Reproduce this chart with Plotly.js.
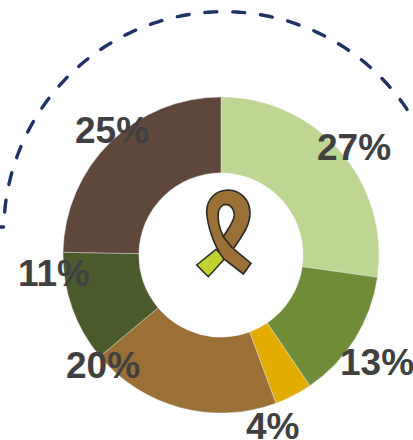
<!DOCTYPE html>
<html>
<head>
<meta charset="utf-8">
<script src="https://cdn.plot.ly/plotly-3.0.1.min.js"></script>
<style>html,body{margin:0;padding:0;background:#fff}#c{width:413px;height:440px}</style>
</head>
<body>
<div id="c"></div>
<script>
var categories = ['A','B','C','D','E','F'];
var values = [27.26,13.24,3.85,19.55,11.37,24.73];
var percentLabels = ['27%','13%','4%','20%','11%','25%'];
var colors = ['#BFD693','#6F8D38','#E2AC00','#9A7036','#4A5A2B','#60473B'];
var labelX = [353.5,376.5,272,103,53.5,112];
var labelY = [147,362,426,365,273,130];

function arcPath(cx,cy,r,a0,a1,n){
  var p=[];
  for(var i=0;i<=n;i++){
    var a=(a0+(a1-a0)*i/n)*Math.PI/180;
    p.push((i?'L':'M')+(cx+r*Math.cos(a)).toFixed(2)+','+(cy+r*Math.sin(a)).toFixed(2));
  }
  return p.join(' ');
}
function rib(d){
  return d.replace(/(-?[\d.]+),(-?[\d.]+)/g,function(m,x,y){
    return (180+x/3).toFixed(2)+','+(170+y/3).toFixed(2);
  });
}
var limeD='M108,238 L50,285 L85,320 L135,265 Z';
var brownD='M213,280 L160,236 C185,200 212,165 210,125 C207,85 180,62 145,60 C105,60 80,90 80,125 C82,165 100,225 130,265 L190,312 Z '+
           'M130,200 C118,175 112,150 115,128 C118,112 128,103 138,103 C152,104 163,118 163,135 C162,155 145,175 130,200 Z';
var edgeD='M130,200 L157,234';
var ink='#2a2a2a';

var annotations = percentLabels.map(function(t,i){
  return {x:labelX[i],y:labelY[i],xref:'x',yref:'y',text:t,showarrow:false,
    xanchor:'center',yanchor:'middle',font:{family:'Liberation Sans, Arial, sans-serif',size:37,color:'#404040',weight:700}};
});

Plotly.newPlot('c',[{
  type:'pie',labels:categories,values:values,sort:false,direction:'clockwise',rotation:0,hole:0.52,
  marker:{colors:colors,line:{width:0.4,color:'#e8e8e8'}},textinfo:'none',hoverinfo:'none',showlegend:false,
  domain:{x:[63/413,379/413],y:[1-413/440,1-97/440]}
}],{
  width:413,height:440,margin:{l:0,r:0,t:0,b:0},paper_bgcolor:'#fff',plot_bgcolor:'rgba(0,0,0,0)',
  showlegend:false,
  xaxis:{range:[0,413],visible:false,fixedrange:true},
  yaxis:{range:[440,0],visible:false,fixedrange:true},
  annotations:annotations,
  shapes:[
    {type:'path',xref:'x',yref:'y',layer:'above',path:arcPath(224,232,220.3,185.2,327.1,200),
     line:{color:'#1F3263',width:3.4,dash:'12px,15.9px'}},
    {type:'path',xref:'x',yref:'y',layer:'above',path:'M0,227 L3.5,227',line:{color:'#1F3263',width:3.4}},
    {type:'path',xref:'x',yref:'y',layer:'above',path:rib(limeD),fillcolor:'#BFD22F',line:{color:ink,width:1.5}},
    {type:'path',xref:'x',yref:'y',layer:'above',path:rib(brownD),fillcolor:'#9A7036',line:{color:ink,width:1.6}},
    {type:'path',xref:'x',yref:'y',layer:'above',path:rib(edgeD),line:{color:ink,width:1.6}}
  ]
},{staticPlot:true,displayModeBar:false}).then(function(gd){
  var p=gd.querySelectorAll('.shapelayer path');
  for(var i=0;i<2&&i<p.length;i++){p[i].style.strokeLinecap='round';}
});
</script>
</body>
</html>
